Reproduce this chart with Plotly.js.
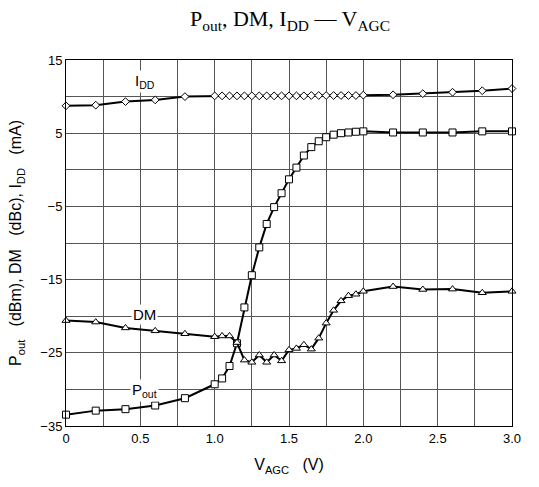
<!DOCTYPE html>
<html><head><meta charset="utf-8">
<script src="https://cdn.plot.ly/plotly-3.0.1.min.js"></script>
<style>html,body{margin:0;padding:0;background:#fff}#chart{width:539px;height:487px}</style>
</head><body><div id="chart"></div>
<script>
const xIdd = [0,0.2,0.4,0.6,0.8,1.0,1.05,1.1,1.15,1.2,1.25,1.3,1.35,1.4,1.45,1.5,1.55,1.6,1.65,1.7,1.75,1.8,1.85,1.9,1.95,2.0,2.2,2.4,2.6,2.8,3.0];
const idd = [8.74,8.83,9.32,9.55,10.0,10.1,10.1,10.1,10.1,10.1,10.1,10.1,10.1,10.1,10.1,10.1,10.1,10.1,10.15,10.15,10.15,10.15,10.15,10.15,10.15,10.2,10.25,10.4,10.6,10.8,11.1];
const xPout = [0,0.2,0.4,0.6,0.8,1.0,1.05,1.1,1.15,1.2,1.25,1.3,1.35,1.4,1.45,1.5,1.55,1.6,1.65,1.7,1.75,1.8,1.85,1.9,1.95,2.0,2.2,2.4,2.6,2.8,3.0];
const pout = [-33.45,-32.9,-32.7,-32.2,-31.2,-29.3,-28.5,-26.8,-23.7,-18.8,-14.4,-10.6,-7.4,-5.1,-3.2,-1.3,0.3,1.95,3.1,3.9,4.45,4.8,5.0,5.1,5.2,5.25,5.1,5.1,5.1,5.25,5.25];
const xDm = [0,0.2,0.4,0.6,0.8,1.0,1.05,1.1,1.15,1.2,1.25,1.3,1.35,1.4,1.45,1.5,1.55,1.6,1.65,1.7,1.75,1.8,1.85,1.9,1.95,2.0,2.2,2.4,2.6,2.8,3.0];
const dm = [-20.6,-20.8,-21.6,-22.0,-22.4,-22.8,-22.7,-22.7,-23.6,-26.0,-26.3,-25.3,-26.3,-25.3,-26.1,-24.6,-24.4,-23.9,-24.5,-23.0,-20.95,-19.2,-17.9,-17.2,-17.0,-16.6,-15.95,-16.35,-16.3,-16.8,-16.6];
const xTickVals = [0,0.5,1.0,1.5,2.0,2.5,3.0];
const xTickText = ["0","0.5","1.0","1.5","2.0","2.5","3.0"];
const yTickVals = [-35,-25,-15,-5,5,15];

const mk = (sym, size) => ({symbol: sym, size: size, color: '#fff', line: {color: '#000', width: 1}});
const traces = [
  {x: xIdd, y: idd, mode: 'lines+markers', line: {color: '#000', width: 2}, marker: mk('diamond', 6), cliponaxis: false},
  {x: xPout, y: pout, mode: 'lines+markers', line: {color: '#000', width: 2}, marker: mk('square', 7), cliponaxis: false},
  {x: xDm, y: dm, mode: 'lines+markers', line: {color: '#000', width: 2}, marker: mk('triangle-up', 7), cliponaxis: false}
];
const sans = 'Liberation Sans, Arial, sans-serif';
const axFont = {family: sans, size: 13, color: '#000'};
const layout = {
  width: 539, height: 487,
  margin: {l: 66, r: 27, t: 60, b: 61},
  paper_bgcolor: '#fff', plot_bgcolor: '#fff',
  showlegend: false,
  font: axFont,
  title: {text: 'P<sub>out</sub>, DM, I<sub>DD</sub> — V<sub>AGC</sub>', x: 0.538, xanchor: 'center', y: 0.962, yanchor: 'middle',
          font: {family: 'Liberation Serif, Times New Roman, serif', size: 22, color: '#000'}},
  xaxis: {range: [0, 3], tickvals: xTickVals, ticktext: xTickText, ticks: '', showgrid: true, gridcolor: '#555', gridwidth: 1,
          minor: {dtick: 0.25, tick0: 0, showgrid: true, gridcolor: '#555', gridwidth: 1},
          showline: true, mirror: true, linecolor: '#000', linewidth: 1, zeroline: false, tickfont: axFont,
          title: {text: 'V<sub>AGC</sub>   (V)', font: {family: sans, size: 16, color: '#000'}, standoff: 14}},
  yaxis: {range: [-35, 15], tickvals: yTickVals, ticks: '', showgrid: true, gridcolor: '#555', gridwidth: 1,
          minor: {dtick: 5, tick0: 0, showgrid: true, gridcolor: '#555', gridwidth: 1},
          showline: true, mirror: true, linecolor: '#000', linewidth: 1, zeroline: false, tickfont: axFont,
          title: {text: 'P<sub>out</sub>   (dBm), DM   (dBc), I<sub>DD</sub>   (mA)', font: {family: sans, size: 16, color: '#000'}, standoff: 14}},
  annotations: [
    {x: 0.53, y: 12.0, text: 'I<sub>DD</sub>', showarrow: false, bgcolor: '#fff', font: {family: sans, size: 15, color: '#000'}},
    {x: 0.53, y: -19.7, text: 'DM', showarrow: false, bgcolor: '#fff', font: {family: sans, size: 15, color: '#000'}},
    {x: 0.53, y: -30.1, text: 'P<sub>out</sub>', showarrow: false, bgcolor: '#fff', font: {family: sans, size: 15, color: '#000'}}
  ]
};
Plotly.newPlot('chart', traces, layout, {displayModeBar: false, staticPlot: true});
</script></body></html>
